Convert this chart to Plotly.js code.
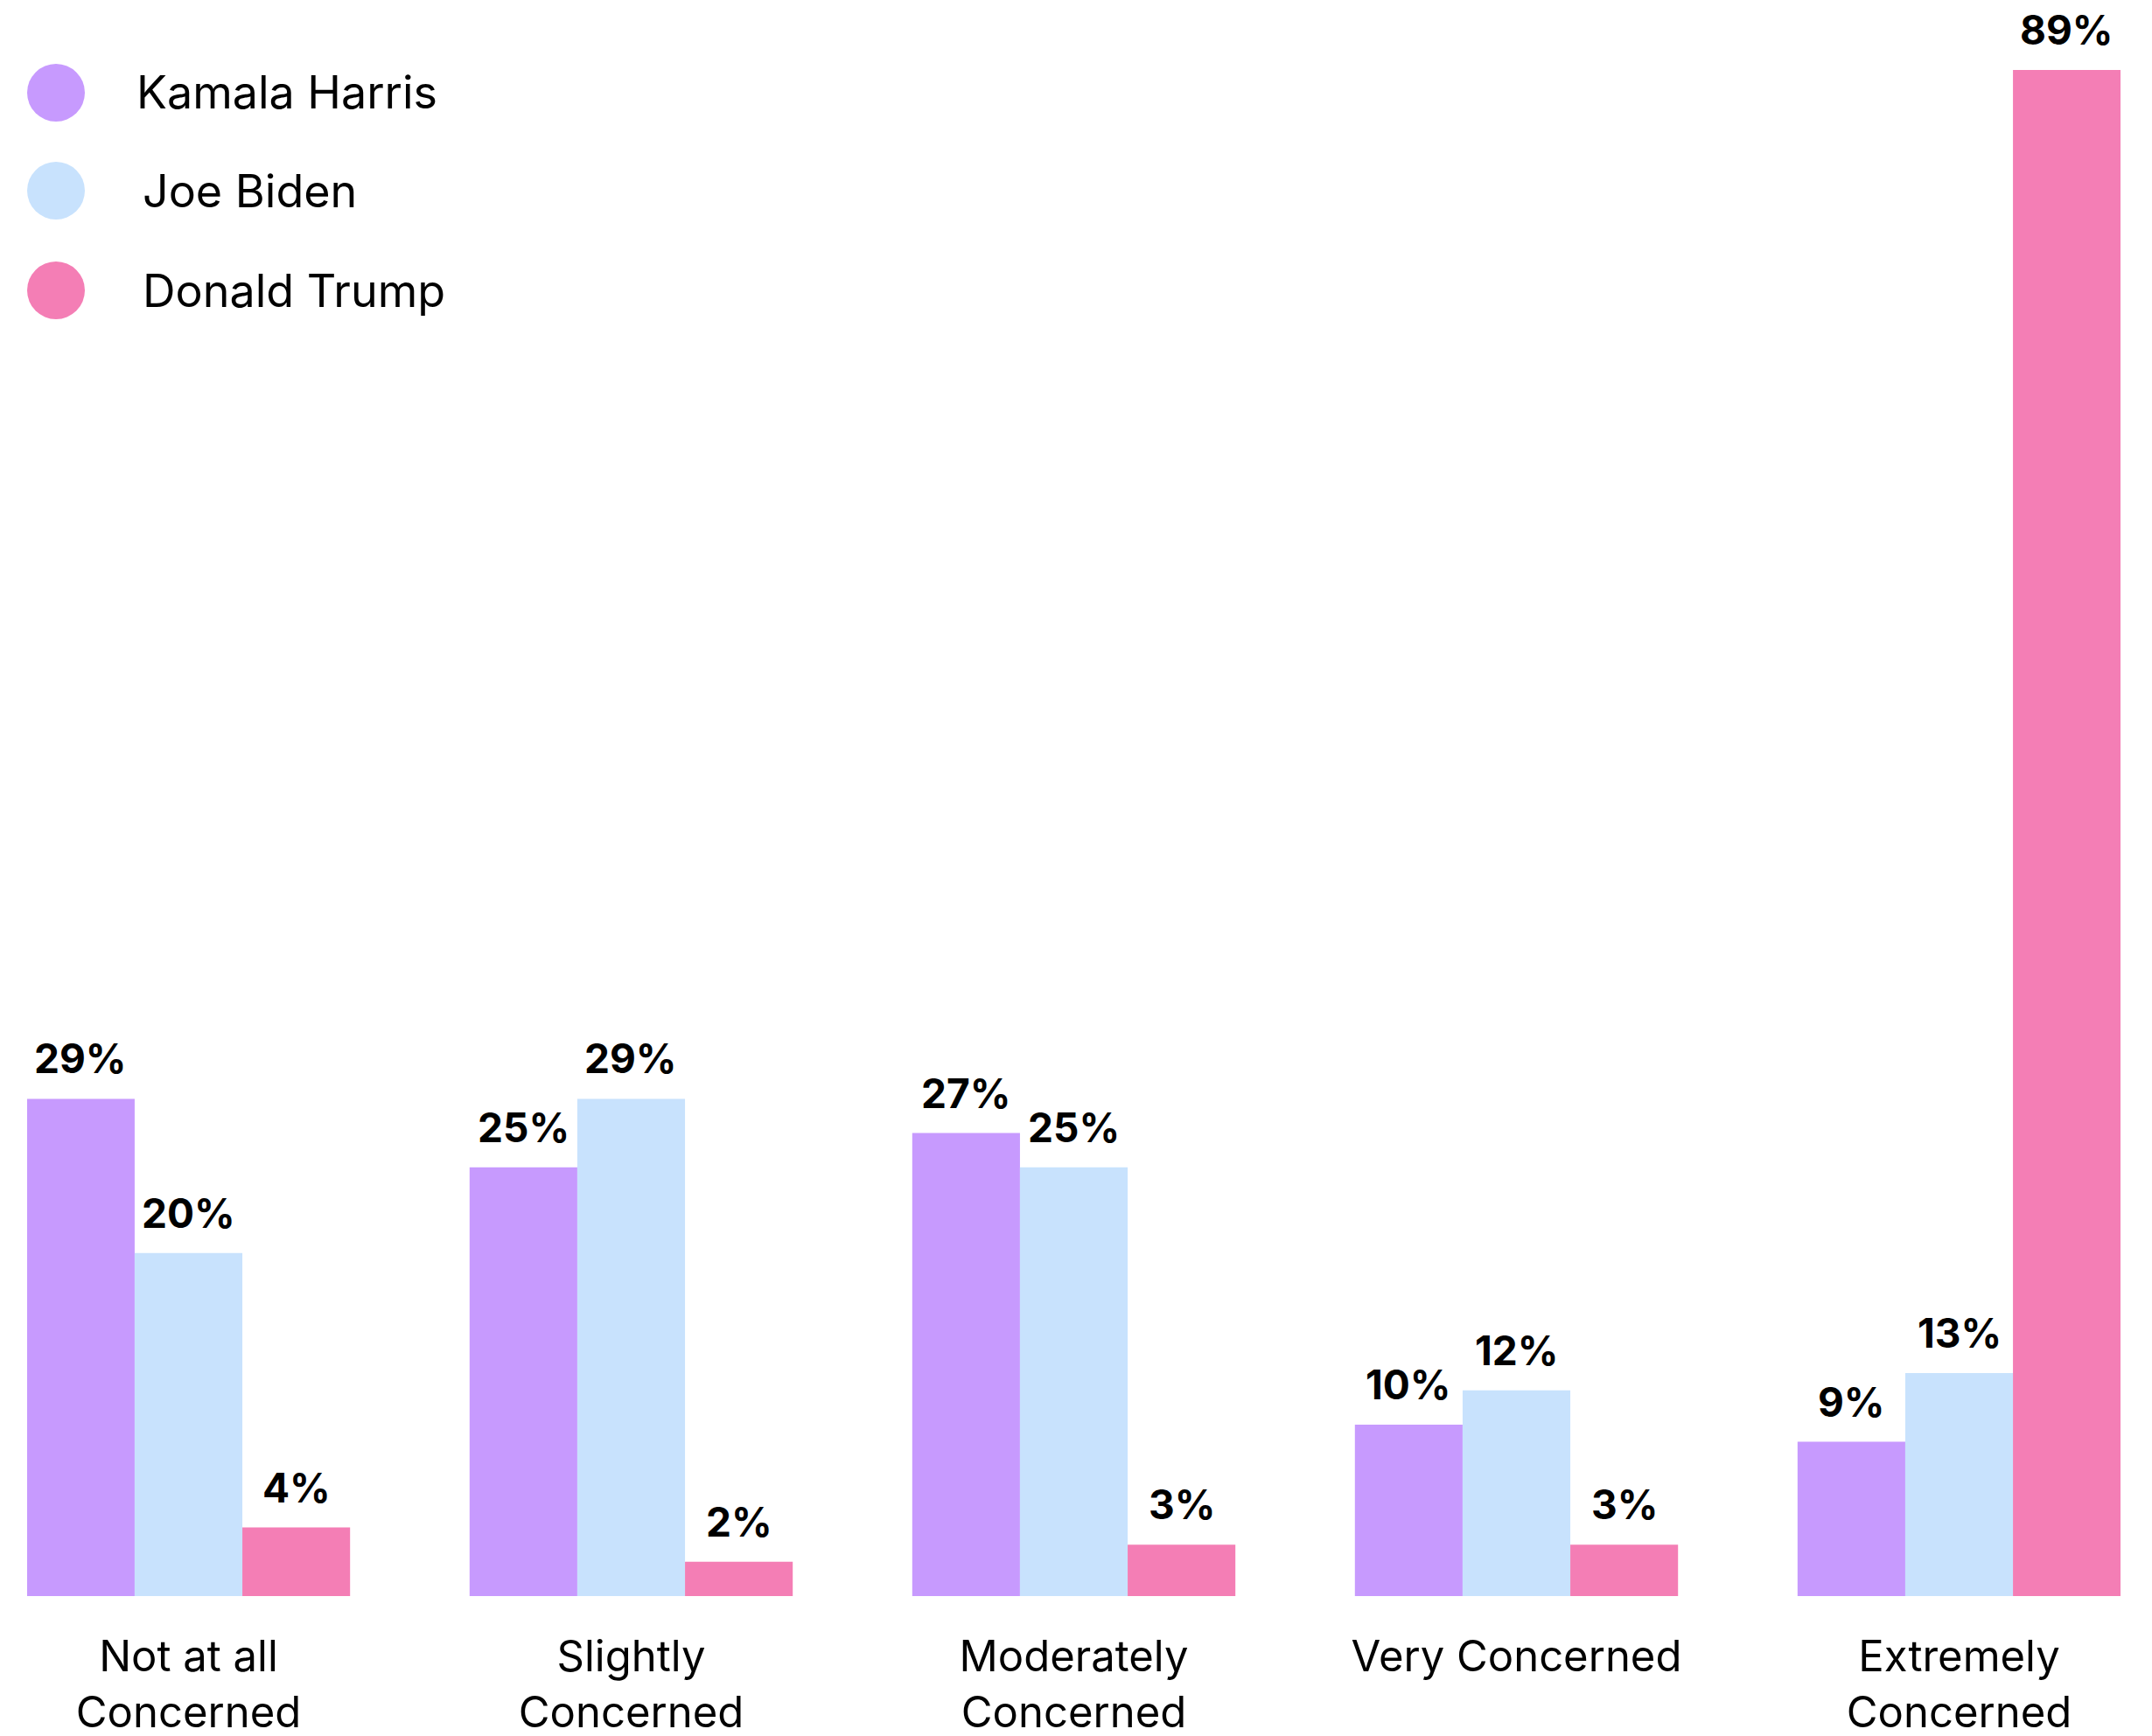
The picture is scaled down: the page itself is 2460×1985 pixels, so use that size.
<!DOCTYPE html>
<html>
<head>
<meta charset="utf-8">
<script src="https://cdn.plot.ly/plotly-3.0.1.min.js"></script>
<style>
  html, body { margin: 0; padding: 0; background: #ffffff; }
  #chart { width: 2460px; height: 1985px; }
</style>
</head>
<body>
<div id="chart"></div>
<script>
const categories = [
  "Not at all<br>Concerned",
  "Slightly<br>Concerned",
  "Moderately<br>Concerned",
  "Very Concerned",
  "Extremely<br>Concerned"
];
const seriesNames = ["Kamala Harris", "Joe Biden", "Donald Trump"];
const harrisValues = [29, 25, 27, 10, 9];
const bidenValues = [20, 29, 25, 12, 13];
const trumpValues = [4, 2, 3, 3, 89];
const seriesColors = ["#C79AFE", "#C8E2FD", "#F47EB5"];

const FONT = "Inter, 'Liberation Sans', Arial, sans-serif";
const allSeries = [harrisValues, bidenValues, trumpValues];
const BARGAP = 0.27;

const traces = allSeries.map((vals, i) => ({
  type: "bar",
  name: seriesNames[i],
  x: categories,
  y: vals,
  marker: { color: seriesColors[i], line: { width: 0 } },
  hoverinfo: "skip",
  showlegend: false
}));

const shapes = [];
const annotations = [];

// value labels above each bar, positioned from the data via the axes
const barW = (1 - BARGAP) / allSeries.length;
allSeries.forEach((vals, i) => {
  vals.forEach((v, j) => {
    annotations.push({
      xref: "x", yref: "y",
      x: j + (i - (allSeries.length - 1) / 2) * barW,
      y: v,
      xanchor: "center", yanchor: "bottom",
      yshift: 16,
      text: v + "%", showarrow: false,
      font: { family: FONT, size: 46, color: "#000000", weight: 700 }
    });
  });
});

// manual legend (large round markers)
const legendTop = [106, 218, 332];
const legendTextLeft = [154, 161, 161];
const plotLeft = 31, plotRight = 2424, plotTop = 80, plotBottom = 1825;
const pw = plotRight - plotLeft, ph = plotBottom - plotTop;
seriesNames.forEach((name, i) => {
  const yPaper = (plotBottom - legendTop[i]) / ph;
  shapes.push({
    type: "circle", xref: "paper", yref: "paper",
    xsizemode: "pixel", ysizemode: "pixel",
    xanchor: (64 - plotLeft) / pw, yanchor: yPaper,
    x0: -33, x1: 33, y0: -33, y1: 33,
    fillcolor: seriesColors[i], line: { width: 0 }
  });
  annotations.push({
    xref: "paper", yref: "paper",
    x: (legendTextLeft[i] - plotLeft) / pw, y: yPaper,
    xanchor: "left", yanchor: "middle",
    text: name, showarrow: false,
    font: { family: FONT, size: 52, color: "#000000" }
  });
});

const layout = {
  width: 2460, height: 1985,
  margin: { l: plotLeft, r: 2460 - plotRight, t: plotTop, b: 1985 - plotBottom, pad: 0 },
  paper_bgcolor: "#ffffff", plot_bgcolor: "#ffffff",
  barmode: "group", bargap: BARGAP, bargroupgap: 0,
  showlegend: false,
  xaxis: {
    type: "category",
    range: [-0.3646, 4.3646],
    showgrid: false, zeroline: false, showline: false, ticks: "",
    tickfont: { family: FONT, size: 49, color: "#000000" },
    ticklabelstandoff: 36,
    fixedrange: true
  },
  yaxis: {
    range: [0, 89],
    showgrid: false, zeroline: false, showline: false, ticks: "",
    showticklabels: false, fixedrange: true
  },
  shapes: shapes,
  annotations: annotations
};

Plotly.newPlot("chart", traces, layout, { displayModeBar: false, staticPlot: true });
</script>
</body>
</html>
